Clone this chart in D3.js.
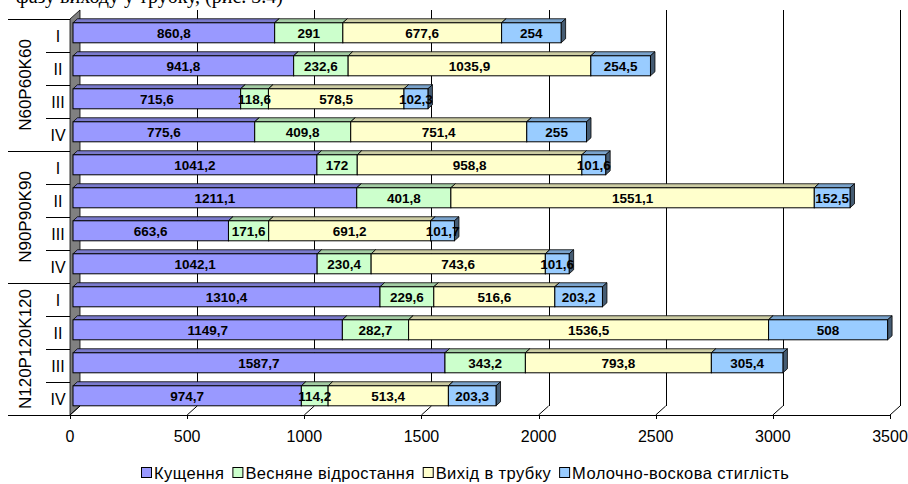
<!DOCTYPE html>
<html>
<head>
<meta charset="utf-8">
<script src="https://cdn.jsdelivr.net/npm/d3@7"></script>
<style>
  body { margin: 0; background: #fff; }
  svg { display: block; font-family: "Liberation Sans", Arial, sans-serif; }
</style>
</head>
<body>
<svg id="chart" width="908" height="484"></svg>
<script>
// дані
const groups = ["N60P60K60", "N90P90K90", "N120P120K120"];
const periods = ["I", "II", "III", "IV"];
const series = ["Кущення", "Весняне відростання", "Вихід в трубку", "Молочно-воскова стиглість"];
const kushchennia = [860.8, 941.8, 715.6, 775.6, 1041.2, 1211.1, 663.6, 1042.1, 1310.4, 1149.7, 1587.7, 974.7];
const vidrostannia = [291, 232.6, 118.6, 409.8, 172, 401.8, 171.6, 230.4, 229.6, 282.7, 343.2, 114.2];
const vykhid = [677.6, 1035.9, 578.5, 751.4, 958.8, 1551.1, 691.2, 743.6, 516.6, 1536.5, 793.8, 513.4];
const styglist = [254, 254.5, 102.3, 255, 101.6, 152.5, 101.7, 101.6, 203.2, 508, 305.4, 203.3];
const xTicks = [0, 500, 1000, 1500, 2000, 2500, 3000, 3500];
const colors = ["#9999FF", "#CCFFCC", "#FFFFCC", "#99CCFF"];

const svg = d3.select("#chart");

// глибина 3D
const DX = 10, DY = 9;
const off = t => [DX * t, -DY * t];
const crisp = v => Math.round(v) + 0.5;

const x = d3.scaleLinear().domain([0, 3500]).range([70, 890]);
const rows = d3.range(12);
const yAxis = d3.scaleBand().domain(rows).range([19, 415]);
const yBar = d3.scaleBand().domain(rows).range([19, 415])
    .paddingInner(13 / 33).paddingOuter(6.5 / 33);

const floorY = 415, topY = 19;
const back = off(1);

// текст зверху (обрізаний краєм)
svg.append("text")
    .attr("x", 283).attr("y", 3)
    .attr("text-anchor", "end")
    .style("font-family", "'Liberation Serif', 'Times New Roman', serif")
    .style("font-size", "20px")
    .text("фазу виходу у трубку, (рис. 3.4)");

// ліва стінка
svg.append("polygon")
    .attr("points", [[x(0), topY], [x(0) + back[0], topY + back[1]],
        [x(0) + back[0], floorY + back[1]], [x(0), floorY]].join(" "))
    .attr("fill", "#808080").attr("stroke", "#000").attr("stroke-width", 0.8);

// сітка: задня стінка та підлога
const grid = svg.append("g");
xTicks.forEach(v => {
    const xb = crisp(x(v) + back[0]);
    if (v > 0) {
        grid.append("line")
            .attr("x1", xb).attr("x2", xb)
            .attr("y1", topY + back[1]).attr("y2", floorY + back[1])
            .attr("stroke", "#000");
    }
    grid.append("line")
        .attr("x1", x(v)).attr("y1", floorY)
        .attr("x2", x(v) + back[0]).attr("y2", floorY + back[1])
        .attr("stroke", "#000");
    grid.append("line")
        .attr("x1", crisp(x(v))).attr("x2", crisp(x(v)))
        .attr("y1", floorY).attr("y2", floorY + 4)
        .attr("stroke", "#000");
});

// нижня лінія осі
svg.append("line")
    .attr("x1", 8).attr("x2", x(3500))
    .attr("y1", floorY + 0.5).attr("y2", floorY + 0.5)
    .attr("stroke", "#000");

// підписи осі X
svg.append("g").selectAll("text")
    .data(xTicks).join("text")
    .attr("x", d => x(d)).attr("y", 442)
    .attr("text-anchor", "middle")
    .style("font-size", "16px")
    .text(d => d);

// категорійна вісь
const catAxis = svg.append("g");
rows.forEach(i => {
    const yy = crisp(yAxis(i));
    catAxis.append("line")
        .attr("x1", i % 4 === 0 ? 8 : 46).attr("x2", x(0))
        .attr("y1", yy).attr("y2", yy)
        .attr("stroke", "#000");
});
catAxis.selectAll("text.period")
    .data(rows).join("text")
    .attr("class", "period")
    .attr("x", 58)
    .attr("y", i => yAxis(i) + yAxis.bandwidth() / 2 + 6)
    .attr("text-anchor", "middle")
    .style("font-size", "16px")
    .text(i => periods[i % 4]);
catAxis.selectAll("text.group")
    .data(groups).join("text")
    .attr("class", "group")
    .attr("transform", (d, g) => {
        const cy = (yAxis(g * 4) + yAxis(g * 4 + 3) + yAxis.bandwidth()) / 2;
        return `translate(31,${cy}) rotate(-90)`;
    })
    .attr("text-anchor", "middle")
    .style("font-size", "17px")
    .text(d => d);

// стовпці
const allSeries = [kushchennia, vidrostannia, vykhid, styglist];
const fmt = v => String(v).replace(".", ",");
const f0 = off(0.3), f1 = off(0.75);
const bd = [f1[0] - f0[0], f1[1] - f0[1]];
const shade = (c, k) => {
    const r = d3.rgb(c);
    return d3.rgb(r.r * k, r.g * k, r.b * k).formatHex();
};

const bars = svg.append("g");
rows.forEach(i => {
    let acc = 0;
    const y0 = yBar(i) + f0[1];
    const h = yBar.bandwidth();
    allSeries.forEach((s, k) => {
        const v = s[i];
        const xa = x(acc) + f0[0], xe = x(acc + v) + f0[0];
        acc += v;
        const g = bars.append("g");
        g.append("polygon")
            .attr("points", [[xa, y0], [xe, y0], [xe + bd[0], y0 + bd[1]], [xa + bd[0], y0 + bd[1]]].join(" "))
            .attr("fill", shade(colors[k], 0.8)).attr("stroke", "#000").attr("stroke-width", 0.8);
        g.append("polygon")
            .attr("points", [[xe, y0], [xe + bd[0], y0 + bd[1]], [xe + bd[0], y0 + h + bd[1]], [xe, y0 + h]].join(" "))
            .attr("fill", shade(colors[k], 0.45)).attr("stroke", "#000").attr("stroke-width", 0.8);
        g.append("rect")
            .attr("x", xa).attr("y", y0)
            .attr("width", xe - xa).attr("height", h)
            .attr("fill", colors[k]).attr("stroke", "#000").attr("stroke-width", 1);
    });
});

// підписи значень
const labels = svg.append("g");
rows.forEach(i => {
    let acc = 0;
    allSeries.forEach(s => {
        const v = s[i];
        const cx = x(acc + v / 2) + f0[0];
        acc += v;
        labels.append("text")
            .attr("x", cx)
            .attr("y", yBar(i) + f0[1] + yBar.bandwidth() / 2 + 5)
            .attr("text-anchor", "middle")
            .style("font-size", "13.5px").style("font-weight", "bold")
            .text(fmt(v));
    });
});

// легенда
const legend = svg.append("g");
let lx = 0;
series.forEach((name, k) => {
    const it = legend.append("g");
    it.append("rect").attr("x", 0.5).attr("y", -5.5).attr("width", 10).attr("height", 10)
        .attr("fill", colors[k]).attr("stroke", "#000").attr("stroke-width", 1);
    const t = it.append("text").attr("x", 13).attr("y", 6)
        .style("font-size", "16.5px").style("letter-spacing", "0.4px").text(name);
    const w = 13 + t.node().getComputedTextLength();
    it.attr("transform", `translate(${lx},0)`);
    lx += w + 8;
});
const total = lx - 8;
legend.attr("transform", `translate(${Math.round(465 - total / 2)},473)`);
</script>
</body>
</html>
